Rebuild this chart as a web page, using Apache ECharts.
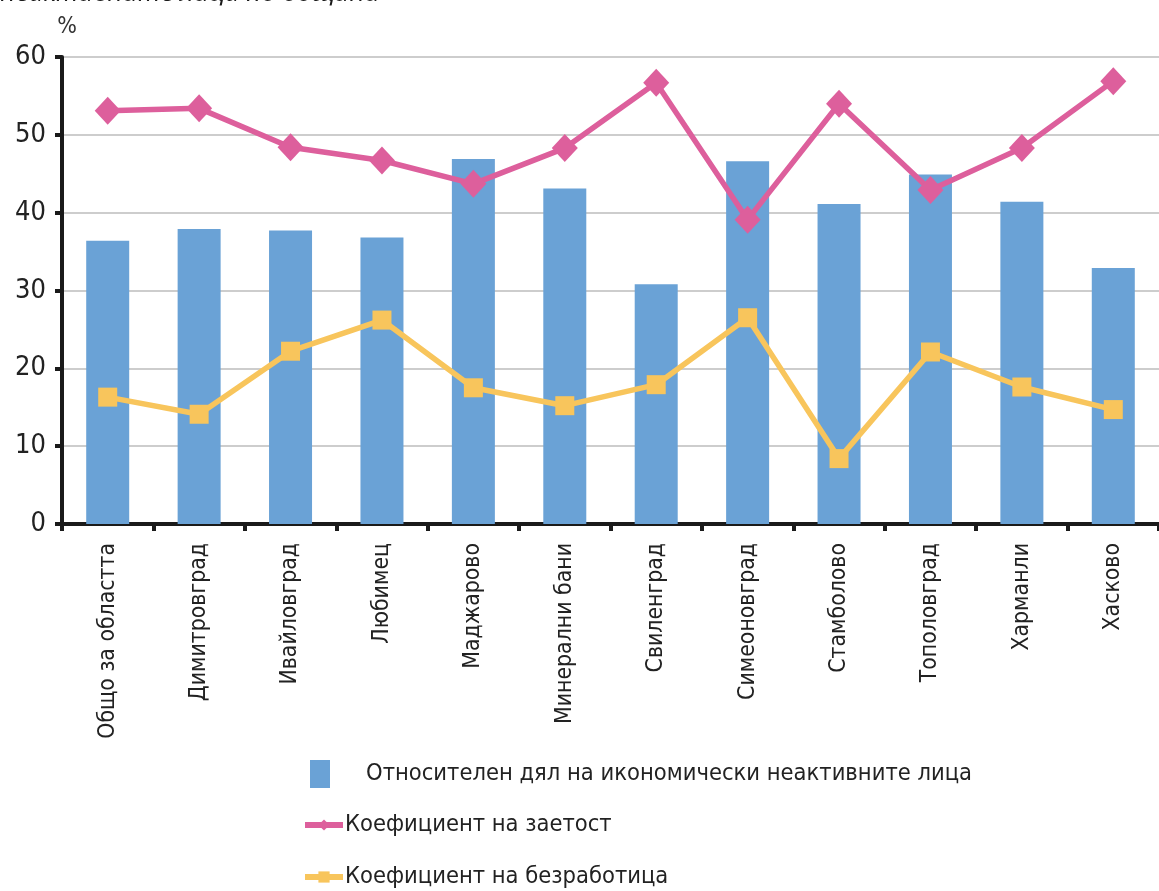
<!DOCTYPE html>
<html>
<head>
<meta charset="utf-8">
<script src="https://cdn.jsdelivr.net/npm/echarts@6/dist/echarts.min.js"></script>
<style>
html,body{margin:0;padding:0;background:#fff;}
#c{width:1159px;height:891px;}
</style>
</head>
<body>
<div id="c"></div>
<script>
const categories = ['Общо за областта','Димитровград','Ивайловград','Любимец','Маджарово','Минерални бани','Свиленград','Симеоновград','Стамболово','Тополовград','Харманли','Хасково'];
const inactiveShare = [36.4, 37.9, 37.7, 36.8, 46.9, 43.1, 30.8, 46.6, 41.1, 44.9, 41.4, 32.9];
const employmentRate = [53.1, 53.4, 48.4, 46.7, 43.7, 48.3, 56.7, 39.1, 54.0, 42.9, 48.3, 56.9];
const unemploymentRate = [16.3, 14.1, 22.2, 26.2, 17.5, 15.2, 17.9, 26.5, 8.4, 22.1, 17.6, 14.7];
const seriesNames = ['Относителен дял на икономически неактивните лица','Коефициент на заетост','Коефициент на безработица'];

const FONT = '"DejaVu Sans Condensed", "Liberation Sans Narrow", sans-serif';
const chart = echarts.init(document.getElementById('c'));
chart.setOption({
  animation: false,
  textStyle: {fontFamily: FONT},
  graphic: [{
    type: 'text', x: 380, y: 7,
    style: {text: 'Относителен дял на икономически неактивните лица по общини', font: 'italic 26px "Open Sans", sans-serif', fill: '#1a1a1a', textAlign: 'right', textVerticalAlign: 'bottom'}
  }],
  grid: {left: 62, top: 57, width: 1105, height: 467, containLabel: false},
  legend: [
    {data: [seriesNames[0]], left: 305, top: 755, icon: 'rect', itemWidth: 20, itemHeight: 28, itemGap: 10,
     textStyle: {fontFamily: FONT, fontSize: 23.5, color: '#222', padding: [0,0,0,31]}},
    {data: [seriesNames[1]], left: 297, top: 808, itemWidth: 38, itemHeight: 14,
     lineStyle: {width: 6},
     textStyle: {fontFamily: FONT, fontSize: 23.5, color: '#222', padding: [0,0,0,-3]}},
    {data: [seriesNames[2]], left: 297, top: 860, itemWidth: 38, itemHeight: 14,
     lineStyle: {width: 6},
     textStyle: {fontFamily: FONT, fontSize: 23.5, color: '#222', padding: [0,0,0,-3]}}
  ],
  xAxis: {
    type: 'category', data: categories,
    axisLine: {lineStyle: {color: '#1a1a1a', width: 4}},
    axisTick: {show: true, length: 7, lineStyle: {color: '#1a1a1a', width: 4}},
    axisLabel: {rotate: 90, margin: 19, fontSize: 22.8, color: '#222', fontFamily: FONT, interval: 0}
  },
  yAxis: {
    type: 'value', min: 0, max: 60, interval: 10,
    name: '%', nameLocation: 'end', nameGap: 18,
    nameTextStyle: {fontSize: 23, color: '#333', fontFamily: FONT, align: 'center', padding: [0,0,0,10]},
    axisLine: {show: true, lineStyle: {color: '#1a1a1a', width: 4}},
    axisTick: {show: true, length: 7, lineStyle: {color: '#1a1a1a', width: 4}},
    axisLabel: {margin: 16, fontSize: 27, color: '#222', fontFamily: FONT},
    splitLine: {lineStyle: {color: '#bdbdbd', width: 1.5}}
  },
  series: [
    {name: seriesNames[0], type: 'bar', data: inactiveShare, barWidth: 43, itemStyle: {color: '#6aa2d6'}, z: 2},
    {name: seriesNames[1], type: 'line', data: employmentRate, symbol: 'diamond', symbolSize: [26, 28],
     lineStyle: {color: '#dd5f9c', width: 5.5}, itemStyle: {color: '#dd5f9c'}, z: 4},
    {name: seriesNames[2], type: 'line', data: unemploymentRate, symbol: 'rect', symbolSize: 19,
     lineStyle: {color: '#f8c55c', width: 5.5}, itemStyle: {color: '#f8c55c'}, z: 3}
  ]
});
</script>
</body>
</html>
